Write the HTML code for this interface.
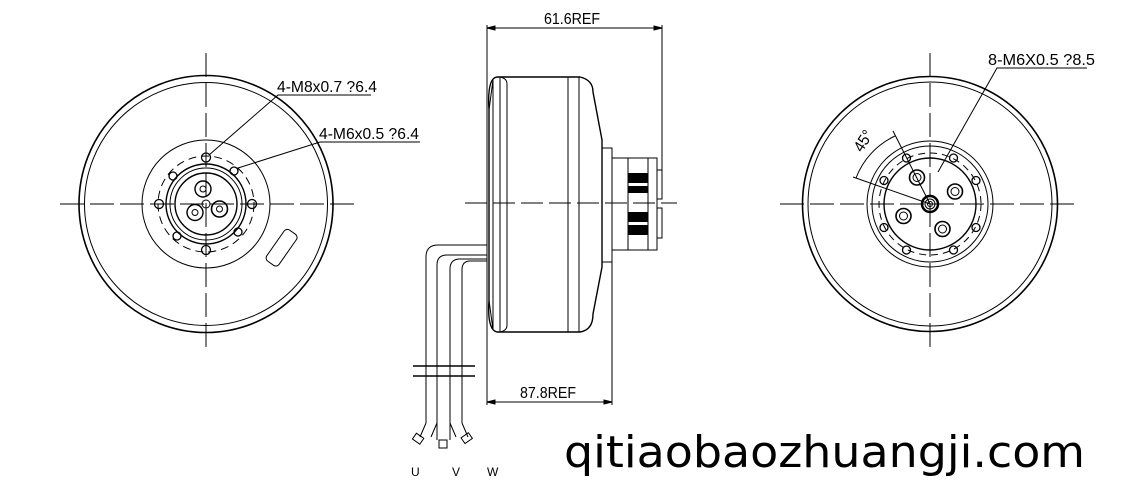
<!DOCTYPE html>
<html><head><meta charset="utf-8"><style>
html,body{margin:0;padding:0;background:#fff;}
svg{display:block;}
text{font-family:"Liberation Sans Narrow","Liberation Sans",sans-serif;fill:#000;}
</style></head><body>
<svg width="1129" height="497" viewBox="0 0 1129 497" xmlns="http://www.w3.org/2000/svg">
<g fill="none" stroke="#000" stroke-width="1">
<line x1="60" y1="204" x2="355" y2="204" stroke-dasharray="24,6"/>
<line x1="206" y1="53" x2="206" y2="353" stroke-dasharray="24,6"/>
<ellipse cx="206" cy="204" rx="127" ry="128.5" stroke-width="1.6"/>
<circle cx="206" cy="204" r="121.5"/>
<circle cx="206" cy="204" r="64"/>
<circle cx="206" cy="204" r="48" stroke-dasharray="8,5"/>
<circle cx="206" cy="204" r="40" stroke-width="1.4"/>
<circle cx="206" cy="204" r="36"/>
<circle cx="206" cy="204" r="31" stroke-width="1.4"/>
<circle cx="203" cy="189" r="8" stroke-width="1.4"/><circle cx="203" cy="189" r="3"/>
<circle cx="195" cy="212.5" r="8" stroke-width="1.4"/><circle cx="195" cy="212.5" r="3"/>
<circle cx="219.5" cy="209" r="8" stroke-width="1.6"/><circle cx="219.5" cy="209" r="3"/>
<circle cx="206" cy="204" r="4"/>
<g stroke-width="1.3">
<circle cx="206" cy="157.5" r="4.5"/><circle cx="173" cy="176" r="4"/><circle cx="234" cy="171" r="4"/>
<circle cx="159" cy="204" r="4.5"/><circle cx="252" cy="204" r="4.5"/><circle cx="177" cy="236" r="4"/>
<circle cx="238" cy="232" r="4"/><circle cx="206" cy="250" r="4.5"/>
</g>
<rect x="263" y="240" width="38" height="15" rx="4" transform="rotate(-55 282 248)"/>
<polyline points="209,155 278,95 371,95"/>
<polyline points="238,168 320,142 420,142"/>

<line x1="487" y1="25" x2="487" y2="405"/>
<line x1="662" y1="25" x2="662" y2="170"/>
<line x1="612" y1="262" x2="612" y2="405"/>
<line x1="487" y1="28" x2="662" y2="28"/>
<line x1="487" y1="402" x2="612" y2="402"/>
<path d="M487,28 l8,-2 v4z M662,28 l-8,-2 v4z M487,402 l8,-2 v4z M612,402 l-8,-2 v4z" fill="#000"/>
<line x1="465" y1="203" x2="677" y2="203" stroke-dasharray="22,6"/>
<path d="M497,77 H580 Q593,80 593,92 L602,140 V267 L593,314 Q593,330 580,332 H497 Q487,330 489,300 V110 Q487,78 497,77 Z" stroke-width="1.4"/>
<path d="M489,110 L493,80 M489,300 L493,330"/>
<line x1="493" y1="80" x2="493" y2="330"/>
<line x1="500" y1="78" x2="500" y2="331"/>
<path d="M497,77 Q507,77 507,84 V325 Q507,332 497,332"/>
<line x1="568" y1="77" x2="568" y2="332"/>
<line x1="579" y1="77" x2="579" y2="332"/>
<rect x="602" y="148" width="10" height="114"/>
<rect x="612" y="158" width="16" height="92"/>
<rect x="648" y="158" width="9" height="92"/>
<rect x="657" y="170" width="5" height="29"/>
<rect x="657" y="208" width="5" height="30"/>
<line x1="628" y1="158" x2="648" y2="158"/><line x1="628" y1="250" x2="648" y2="250"/>
<g fill="#000" stroke="none">
<rect x="628" y="173" width="20" height="10"/><rect x="628" y="186" width="20" height="7"/>
<rect x="628" y="212" width="20" height="10"/><rect x="628" y="225" width="20" height="10"/>
</g>
<path d="M487,245 H438 Q426,245 426,257 V423"/>
<path d="M487,255 H447 Q437,255 437,265 V440"/>
<path d="M487,259 H460 Q450,259 450,269 V440"/>
<path d="M487,261 H470 Q462,261 462,270 V423"/>
<line x1="413" y1="366" x2="475" y2="366" stroke-width="1.4"/>
<line x1="413" y1="376" x2="475" y2="376" stroke-width="1.4"/>
<path d="M426,423 L420,437 M437,423 L431,437"/>
<rect x="414" y="435" width="9" height="7" transform="rotate(35 418 438)"/>
<rect x="439" y="440" width="8" height="8"/>
<path d="M450,423 L456,437 M462,423 L468,437"/>
<rect x="462" y="435" width="9" height="7" transform="rotate(-35 466 438)"/>

<line x1="780" y1="204" x2="1080" y2="204" stroke-dasharray="24,6"/>
<line x1="930" y1="53" x2="930" y2="353" stroke-dasharray="24,6"/>
<circle cx="930" cy="204" r="127.5" stroke-width="1.6"/>
<circle cx="930" cy="204" r="122"/>
<circle cx="930" cy="204" r="63"/>
<circle cx="930" cy="204" r="58"/>
<circle cx="930" cy="204" r="51" stroke-dasharray="7,5"/>
<circle cx="930" cy="204" r="46" stroke-width="1.4"/>
<g stroke-width="1.3">
<circle cx="906.5" cy="158" r="4"/><circle cx="953.5" cy="158" r="4"/>
<circle cx="976" cy="180.5" r="4"/><circle cx="976" cy="227.5" r="4"/>
<circle cx="953.5" cy="250" r="4"/><circle cx="906.5" cy="250" r="4"/>
<circle cx="884" cy="227.5" r="4"/><circle cx="884" cy="180.5" r="4"/>
</g>
<g stroke-width="1.6">
<circle cx="917" cy="177.5" r="7.5"/><circle cx="955" cy="191.5" r="7.5"/>
<circle cx="903.5" cy="216" r="7.5"/><circle cx="942.5" cy="229" r="7.5"/>
</g>
<circle cx="917" cy="177.5" r="4"/><circle cx="955" cy="191.5" r="4"/>
<circle cx="903.5" cy="216" r="4"/><circle cx="942.5" cy="229" r="4"/>
<circle cx="930" cy="204" r="8" stroke-width="2.5"/>
<circle cx="930" cy="204" r="5"/><circle cx="930" cy="204" r="2.5"/>
<line x1="930" y1="204" x2="893" y2="131"/>
<line x1="930" y1="204" x2="853" y2="177"/>
<path d="M895,136 A76,76 0 0 0 856,178"/>
<polyline points="938,172 997,68 1087,68"/>
</g>
<g font-size="16">
<text x="277" y="92" textLength="100" lengthAdjust="spacingAndGlyphs">4-M8x0.7 ?6.4</text>
<text x="319" y="139" textLength="100" lengthAdjust="spacingAndGlyphs">4-M6x0.5 ?6.4</text>
<text x="544" y="24" textLength="56" lengthAdjust="spacingAndGlyphs">61.6REF</text>
<text x="520" y="398" textLength="56" lengthAdjust="spacingAndGlyphs">87.8REF</text>
<text x="988" y="65" textLength="107" lengthAdjust="spacingAndGlyphs">8-M6X0.5 ?8.5</text>
<text x="0" y="0" transform="translate(862,153) rotate(-58)" textLength="22" lengthAdjust="spacingAndGlyphs">45°</text>
</g>
<g font-size="12">
<text x="411" y="476">U</text><text x="452" y="476">V</text><text x="487" y="476">W</text>
</g>
<text x="564" y="467" font-size="44" textLength="521" lengthAdjust="spacingAndGlyphs" style="font-family:'DejaVu Sans','Liberation Sans',sans-serif">qitiaobaozhuangji.com</text>
</svg>
</body></html>
